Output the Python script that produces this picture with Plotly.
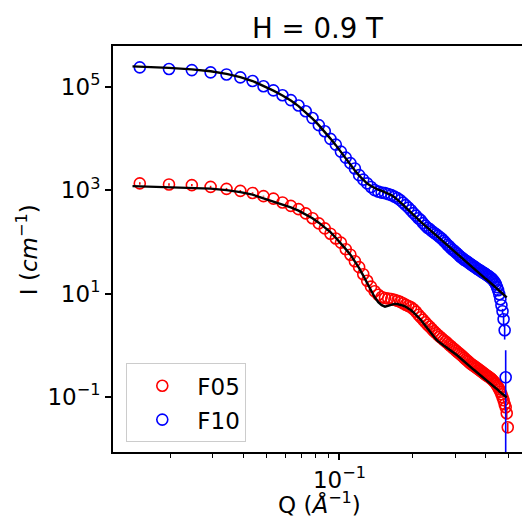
import plotly.graph_objects as go

# Q grid (Å^-1)
q = [0.0150, 0.0198, 0.0246, 0.0294, 0.0342, 0.0390, 0.0438, 0.0486, 0.0534, 0.0582,
     0.0630, 0.0678, 0.0726, 0.0774, 0.0822, 0.0870, 0.0918, 0.0966, 0.1014, 0.1062,
     0.1110, 0.1158, 0.1206, 0.1254, 0.1302, 0.1350, 0.1398, 0.1446, 0.1494, 0.1542,
     0.1590, 0.1638, 0.1686, 0.1734, 0.1782, 0.1830, 0.1878, 0.1926, 0.1974, 0.2022,
     0.2070, 0.2118, 0.2166, 0.2214, 0.2262, 0.2310, 0.2358, 0.2406, 0.2454, 0.2502,
     0.2550, 0.2598, 0.2646, 0.2694, 0.2742, 0.2790, 0.2838, 0.2886, 0.2934, 0.2982,
     0.3030, 0.3078, 0.3126, 0.3174, 0.3222, 0.3270, 0.3318, 0.3366, 0.3414, 0.3462,
     0.3510, 0.3558, 0.3606, 0.3654, 0.3702, 0.3750, 0.3798, 0.3846, 0.3894, 0.3942,
     0.3990, 0.4038, 0.4086, 0.4134, 0.4182, 0.4230, 0.4278, 0.4326, 0.4374, 0.4422,
     0.4470, 0.4518, 0.4566, 0.4614, 0.4662, 0.4710, 0.4758, 0.4806, 0.4854, 0.4902,
     0.4950]

# F05 data (cm^-1)
f05 = [1350, 1290, 1250, 1160, 1060, 970, 884, 766, 685, 579,
       497, 429, 356, 287, 228, 182, 144, 116, 96.5, 72.2,
       56.5, 42.3, 32.4, 23.7, 17.7, 13.6, 11.1, 9.51, 8.58, 8.20,
       8.02, 7.85, 7.61, 7.28, 6.90, 6.51, 6.09, 5.75, 5.45, 4.98,
       4.45, 3.90, 3.49, 3.12, 2.79, 2.50, 2.28, 2.06, 1.87, 1.72,
       1.58, 1.46, 1.36, 1.26, 1.18, 1.10, 1.02, 0.958, 0.892, 0.838,
       0.784, 0.733, 0.692, 0.653, 0.614, 0.574, 0.537, 0.506, 0.480, 0.449,
       0.430, 0.411, 0.393, 0.376, 0.359, 0.344, 0.329, 0.314, 0.301, 0.288,
       0.275, 0.263, 0.254, 0.245, 0.235, 0.225, 0.214, 0.203, 0.192, 0.180,
       0.168, 0.154, 0.141, 0.126, 0.113, 0.0987, 0.0863, 0.0722, 0.0632, 0.0484,
       0.0259]
f05_err = [75, 70, 65, 55, 45, 35, 25, 15, 0, 0,
           0, 0, 0, 0, 0, 0, 0, 0, 0, 0,
           0, 0, 0, 0, 0, 0, 0, 0, 0, 0,
           0, 0, 0, 0, 0, 0, 0, 0, 0, 0,
           0, 0, 0, 0, 0, 0, 0, 0, 0, 0,
           0, 0, 0, 0, 0, 0, 0, 0, 0, 0,
           0, 0, 0, 0, 0, 0, 0, 0, 0, 0,
           0, 0, 0, 0, 0, 0, 0, 0, 0, 0,
           0, 0, 0, 0, 0, 0, 0, 0, 0, 0,
           0, 0, 0, 0, 0, 0, 0.012, 0.012, 0.012, 0.012,
           0.006]

# F10 data (cm^-1)
f10 = [2.37e5, 2.20e5, 2.10e5, 1.90e5, 1.73e5, 1.52e5, 1.29e5, 1.02e5, 8.51e4, 6.84e4,
       5.52e4, 4.34e4, 3.35e4, 2.48e4, 1.81e4, 1.38e4, 9.80e3, 7.60e3, 5.57e3, 4.26e3,
       3.33e3, 2.63e3, 1.95e3, 1.60e3, 1.35e3, 1.15e3, 1.00e3, 936, 896, 876,
       838, 801, 749, 701, 641, 573, 513, 459, 410, 359,
       321, 287, 263, 230, 206, 188, 176, 161, 151, 141,
       132, 123, 115, 105, 96.5, 88.2, 82.5, 75.5, 70.6, 66.1,
       61.8, 57.8, 54.0, 50.5, 48.3, 45.2, 43.3, 41.4, 39.6, 37.8,
       36.2, 34.6, 33.1, 31.7, 30.3, 29.0, 28.3, 27.1, 25.9, 25.3,
       24.2, 23.2, 22.2, 21.7, 20.7, 19.8, 19.0, 17.7, 16.6, 15.2,
       13.3, 11.6, 9.72, 7.78, 5.96, 4.56, 3.19, 1.95, 0.24]
f10_err = [0, 0, 0, 0, 0, 0, 0, 0, 0, 0,
           0, 0, 0, 0, 0, 0, 0, 0, 0, 0,
           0, 0, 0, 0, 0, 0, 0, 0, 0, 0,
           0, 0, 0, 0, 0, 0, 0, 0, 0, 0,
           0, 0, 0, 0, 0, 0, 0, 0, 0, 0,
           0, 0, 0, 0, 0, 0, 0, 0, 0, 0,
           0, 0, 0, 0, 0, 0, 0, 0, 0, 0,
           0, 0, 0, 0, 0, 0, 0, 0, 0, 0,
           0, 0, 0, 0, 0, 0, 0, 0, 0, 0,
           0, 0, 0, 0, 0, 0.5, 0.9, 0.66, 0.56]

# Model fits
q_fit = [0.0140] + q[:100]
f05_fit = [1197, 1186, 1153, 1119, 1069, 1000, 916, 818, 701, 605,
           525, 463, 402, 344, 287, 235, 192, 154, 120, 94.4,
           72.3, 56.5, 42.3, 31.0, 22.2, 15.8, 11.6, 8.51, 6.81, 5.96,
           5.57, 5.85, 6.15, 6.30, 6.28, 6.12, 5.85, 5.55, 5.21, 4.76,
           4.31, 3.90, 3.48, 3.12, 2.73, 2.39, 2.09, 1.83, 1.60, 1.43,
           1.31, 1.20, 1.11, 1.05, 0.989, 0.938, 0.887, 0.838, 0.794, 0.750,
           0.708, 0.670, 0.627, 0.586, 0.548, 0.513, 0.484, 0.459, 0.434, 0.410,
           0.387, 0.367, 0.347, 0.329, 0.313, 0.296, 0.282, 0.268, 0.255, 0.243,
           0.231, 0.220, 0.210, 0.200, 0.192, 0.183, 0.175, 0.167, 0.160, 0.153,
           0.147, 0.141, 0.136, 0.129, 0.124, 0.119, 0.114, 0.110, 0.105, 0.102,
           0.0977]
f10_fit = [2.48e5, 2.46e5, 2.32e5, 2.17e5, 1.99e5, 1.77e5, 1.54e5, 1.29e5, 1.04e5, 8.43e4,
           6.75e4, 5.41e4, 4.23e4, 3.24e4, 2.42e4, 1.81e4, 1.36e4, 9.93e3, 7.43e3, 5.45e3,
           4.07e3, 3.12e3, 2.39e3, 1.91e3, 1.56e3, 1.34e3, 1.20e3, 1.09e3, 1.02e3, 966,
           916, 865, 802, 733, 661, 592, 525, 463, 410, 364,
           324, 290, 263, 243, 222, 203, 186, 171, 157, 145,
           134, 123, 114, 105, 97.7, 90.6, 84.3, 78.5, 73.1, 68.4,
           64.5, 61.0, 57.8, 54.3, 51.1, 48.0, 45.0, 42.3, 39.9, 37.7,
           35.6, 33.7, 31.8, 30.1, 28.4, 27.0, 25.6, 24.2, 23.1, 21.9,
           20.8, 19.7, 18.9, 17.9, 17.1, 16.3, 15.6, 14.9, 14.2, 13.6,
           13.0, 12.4, 11.9, 11.4, 10.9, 10.4, 10.0, 9.59, 9.16, 8.81,
           8.47]

x_minor = [0.02, 0.03, 0.04, 0.05, 0.06, 0.07, 0.08, 0.09, 0.2, 0.3, 0.4, 0.5]
x_major = [0.1]
x_major_text = ['10<sup>\u22121</sup>']
y_major = [0.1, 10, 1000, 100000]
y_major_text = ['10<sup>\u22121</sup>', '10<sup>1</sup>', '10<sup>3</sup>', '10<sup>5</sup>']

FONT = 'DejaVu Sans'

fig = go.Figure()
fig.add_trace(go.Scatter(
    x=q[:len(f05)], y=f05, mode='markers', name='F05', legendgroup='a',
    marker=dict(symbol='circle-open', size=11, color='#ff0000', line=dict(width=1.6, color='#ff0000')),
    error_y=dict(type='data', array=f05_err, visible=True, color='#ff0000', thickness=1.6, width=0)))
fig.add_trace(go.Scatter(
    x=q[:len(f10)], y=f10, mode='markers', name='F10', legendgroup='b',
    marker=dict(symbol='circle-open', size=11, color='#0000ff', line=dict(width=1.6, color='#0000ff')),
    error_y=dict(type='data', array=f10_err, visible=True, color='#0000ff', thickness=1.6, width=0)))
fig.add_trace(go.Scatter(x=q_fit, y=f05_fit, mode='lines', showlegend=False,
                         line=dict(color='black', width=2.4)))
fig.add_trace(go.Scatter(x=q_fit, y=f10_fit, mode='lines', showlegend=False,
                         line=dict(color='black', width=2.4)))

fig.update_layout(
    width=522, height=517,
    margin=dict(l=113, r=0, t=46, b=65),
    plot_bgcolor='white', paper_bgcolor='white',
    font=dict(family=FONT, size=23, color='black'),
    title=dict(text='H = 0.9 T', x=0.5, xref='paper', xanchor='center',
               y=1 - 28 / 517, yref='container', yanchor='middle',
               font=dict(family=FONT, size=27.6, color='black')),
    legend=dict(x=0.0325, y=0.2186, xanchor='left', yanchor='top',
                bgcolor='white', bordercolor='#cccccc', borderwidth=1,
                itemwidth=60, traceorder='grouped', tracegroupgap=1,
                font=dict(family=FONT, size=23, color='black')),
    annotations=[
        dict(text='Q (<i>\u00c5</i><sup>\u22121</sup>)', xref='paper', yref='paper',
             x=0.506, y=-0.125, xanchor='center', yanchor='middle', showarrow=False,
             font=dict(family=FONT, size=23, color='black')),
        dict(text='I (<i>cm</i><sup>\u22121</sup>)', xref='paper', yref='paper',
             x=-0.21, y=0.4975, xanchor='center', yanchor='middle', showarrow=False,
             textangle=-90, font=dict(family=FONT, size=23, color='black')),
    ],
)
fig.update_xaxes(type='log', range=[-1.9344, -0.2466], showline=True, linecolor='black',
                 linewidth=2, mirror=True, ticks='outside', ticklen=6, tickwidth=1.8,
                 tickcolor='black', tickvals=x_major, ticktext=x_major_text,
                 showgrid=False, zeroline=False,
                 minor=dict(ticks='outside', ticklen=3.5, tickwidth=1.3, tickcolor='black',
                            tickvals=x_minor, showgrid=False))
fig.update_yaxes(type='log', range=[-2.064, 5.788], showline=True, linecolor='black',
                 linewidth=2, mirror=False, ticks='outside', ticklen=6, tickwidth=1.8,
                 tickcolor='black', tickvals=y_major, ticktext=y_major_text,
                 showgrid=False, zeroline=False)

fig.write_html('out.html', config={'displayModeBar': False},
               post_script="document.body.style.margin='0';document.body.style.overflow='hidden';")
